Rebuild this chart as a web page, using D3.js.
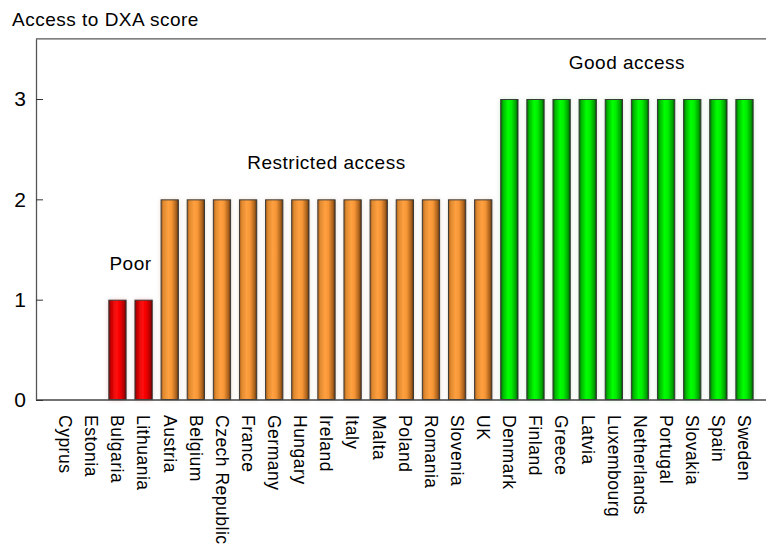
<!DOCTYPE html>
<html>
<head>
<meta charset="utf-8">
<script src="https://cdn.jsdelivr.net/npm/d3@7"></script>
<style>
  html, body { margin: 0; padding: 0; background: #ffffff; }
  svg { display: block; font-family: "Liberation Sans", Arial, Helvetica, sans-serif; }
</style>
</head>
<body>
<svg id="chart" width="766" height="545"></svg>
<script>
// ---- data ----
const categories = ["Cyprus","Estonia","Bulgaria","Lithuania","Austria","Belgium","Czech Republic","France","Germany","Hungary","Ireland","Italy","Malta","Poland","Romania","Slovenia","UK","Denmark","Finland","Greece","Latvia","Luxembourg","Netherlands","Portugal","Slovakia","Spain","Sweden"];
const scores = [0,0,1,1,2,2,2,2,2,2,2,2,2,2,2,2,2,3,3,3,3,3,3,3,3,3,3];
const yTicks = [0,1,2,3];
const groupLabels = ["Poor","Restricted access","Good access"];
const groupFirst = ["Bulgaria","Austria","Denmark"];
const groupLast = ["Lithuania","UK","Sweden"];
const groupValues = [1,2,3];
const titleText = "Access to DXA score";

// ---- layout ----
const svg = d3.select("#chart");
const axisLeftX = 36, axisRightX = 766, baseY = 400, topY = 38.8;

const x = d3.scaleBand().domain(categories).range([43, 766.7]).paddingInner(0.3).paddingOuter(0.5);
const y = d3.scaleLinear().domain([0, 3.6]).range([baseY, topY]);

// gradients
const defs = svg.append("defs");
const gradSpecs = {
  1: [[0,"#7a0000"],[0.12,"#c40000"],[0.42,"#ff1010"],[0.62,"#f80000"],[0.88,"#b00000"],[1,"#600000"]],
  2: [[0,"#a85c18"],[0.14,"#e08a30"],[0.42,"#ffa040"],[0.62,"#f59535"],[0.88,"#a8601c"],[1,"#5a3208"]],
  3: [[0,"#006400"],[0.14,"#00b800"],[0.42,"#00ff00"],[0.62,"#00ee00"],[0.88,"#00a000"],[1,"#004400"]]
};
Object.entries(gradSpecs).forEach(([k, stops]) => {
  const g = defs.append("linearGradient").attr("id", "grad" + k)
    .attr("x1", "0%").attr("x2", "100%").attr("y1", "0%").attr("y2", "0%");
  stops.forEach(s => g.append("stop").attr("offset", s[0]).attr("stop-color", s[1]));
});
const glow = defs.append("filter").attr("id", "glow").attr("x", "-30%").attr("y", "-10%").attr("width", "160%").attr("height", "120%");
glow.append("feGaussianBlur").attr("in", "SourceGraphic").attr("stdDeviation", 2.5).attr("result", "b");
glow.append("feComponentTransfer").attr("in", "b").attr("result", "bt")
  .append("feFuncA").attr("type", "linear").attr("slope", 0.18);
const mg = glow.append("feMerge");
mg.append("feMergeNode").attr("in", "bt");
mg.append("feMergeNode").attr("in", "SourceGraphic");

// bars
const data = categories.map((c, i) => ({c, v: scores[i]})).filter(d => d.v > 0);
svg.append("g").selectAll("rect").data(data).join("rect")
  .attr("x", d => x(d.c) + 0.5)
  .attr("y", d => y(d.v) + 0.5)
  .attr("width", x.bandwidth() - 1)
  .attr("height", d => y(0) - y(d.v) - 1)
  .attr("fill", d => `url(#grad${d.v})`)
  .attr("stroke", "#3a3a3a")
  .attr("stroke-width", 1)
  .attr("filter", "url(#glow)");

// frame lines
svg.append("line").attr("x1", axisLeftX).attr("x2", axisRightX).attr("y1", topY).attr("y2", topY)
  .attr("stroke", "#555").attr("stroke-width", 1.3);
svg.append("line").attr("x1", axisLeftX).attr("x2", axisRightX).attr("y1", baseY).attr("y2", baseY)
  .attr("stroke", "#444").attr("stroke-width", 1.6);

// y axis
const yAxis = svg.append("g").attr("transform", `translate(${axisLeftX},0)`)
  .call(d3.axisLeft(y).tickValues(yTicks).tickSizeInner(-7).tickSizeOuter(0).tickPadding(10).tickFormat(d3.format("d")));
yAxis.select(".domain").attr("stroke", "#555").attr("stroke-width", 1.3);
yAxis.selectAll(".tick line").attr("stroke", "#333");
yAxis.selectAll(".tick text").attr("font-size", 21).attr("fill", "#000")
  .attr("font-family", "Liberation Sans, Arial, sans-serif");

// x axis labels
const xAxis = svg.append("g").attr("transform", `translate(0,${baseY})`)
  .call(d3.axisBottom(x).tickSize(0).tickPadding(0));
xAxis.select(".domain").remove();
xAxis.selectAll(".tick text")
  .attr("transform", "rotate(90)")
  .attr("x", 15).attr("y", 0).attr("dy", "0.35em")
  .attr("text-anchor", "start")
  .attr("font-size", 17.5).attr("letter-spacing", "0.5px").attr("fill", "#000")
  .attr("font-family", "Liberation Sans, Arial, sans-serif");

// group annotations
svg.append("g").selectAll("text").data(groupLabels).join("text")
  .attr("x", (d, i) => (x(groupFirst[i]) + x(groupLast[i]) + x.bandwidth()) / 2)
  .attr("y", (d, i) => y(groupValues[i] + 0.3))
  .attr("text-anchor", "middle")
  .attr("font-size", 19).attr("letter-spacing", "0.5px").attr("fill", "#000")
  .text(d => d);

// title
svg.append("text").attr("x", 12).attr("y", 26)
  .attr("font-size", 19).attr("letter-spacing", "0.5px").attr("fill", "#000")
  .text(titleText);
</script>
</body>
</html>
